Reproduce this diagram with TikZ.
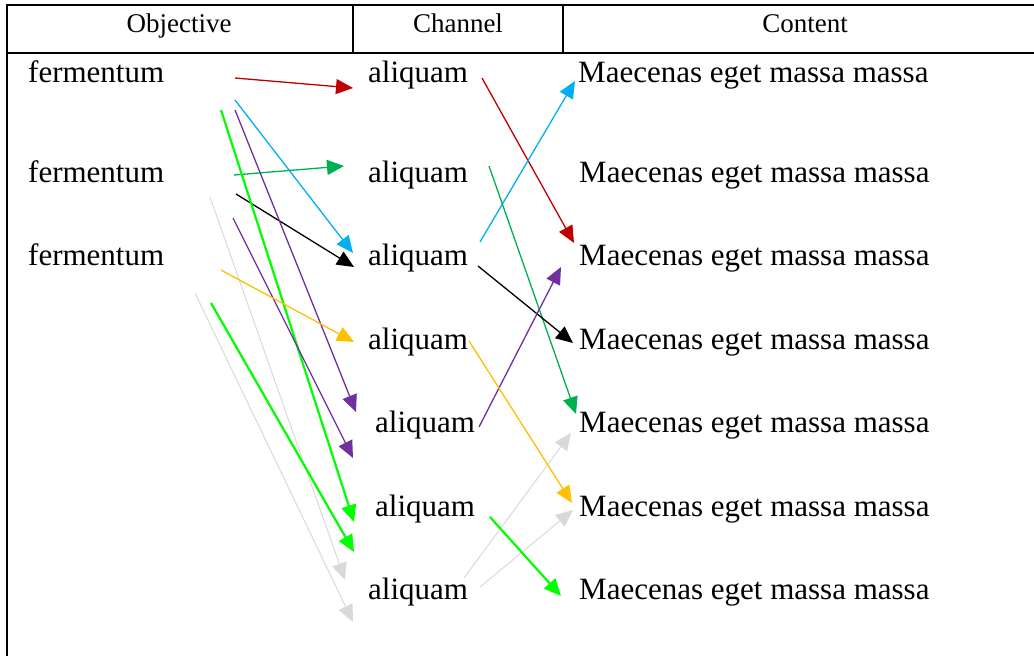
\documentclass[tikz,border=0pt]{standalone}
\usepackage{fontspec}
\setmainfont{Liberation Serif}
\usetikzlibrary{arrows.meta}
\definecolor{cred}{HTML}{C00000}
\definecolor{cblue}{HTML}{00B0F0}
\definecolor{cgreen}{HTML}{00B050}
\definecolor{clime}{HTML}{00FF00}
\definecolor{cpurple}{HTML}{7030A0}
\definecolor{cgray}{HTML}{D9D9D9}
\definecolor{corange}{HTML}{FFC000}
\tikzset{
  rule/.style={line width=2pt, black},
  head/.style={font=\rmfamily\fontsize{27}{32}\selectfont, anchor=base},
  body/.style={font=\rmfamily\fontsize{31}{37}\selectfont, anchor=base west, inner sep=0pt},
  conn/.style={line width=1.3pt, -{Triangle[length=17pt,width=15pt]}},
  thick conn/.style={line width=2.2pt, -{Triangle[length=17pt,width=15pt]}},
  thin conn/.style={line width=1pt, -{Triangle[length=17pt,width=15pt]}},
}
\begin{document}
\begin{tikzpicture}[x=1pt,y=-1pt]
\useasboundingbox (0,0) rectangle (1034,656);
% table rules
\draw[rule] (6,5) -- (1034,5);
\draw[rule] (6,53) -- (1034,53);
\draw[rule] (7,4) -- (7,656);
\draw[rule] (353,5) -- (353,53);
\draw[rule] (563,5) -- (563,53);
% headers
\node[head] (h1) at (179,32) {Objective};
\node[head] (h2) at (458,32) {Channel};
\node[head] (h3) at (805,32) {Content};
% objectives
\node[body] (o1) at (28,82) {fermentum};
\node[body] (o2) at (28,182) {fermentum};
\node[body] (o3) at (28,265) {fermentum};
% channels
\node[body] (c1) at (368,82) {aliquam};
\node[body] (c2) at (368,182) {aliquam};
\node[body] (c3) at (368,265) {aliquam};
\node[body] (c4) at (368,349) {aliquam};
\node[body] (c5) at (375,432) {aliquam};
\node[body] (c6) at (375,516) {aliquam};
\node[body] (c7) at (368,599) {aliquam};
% contents
\node[body] (m1) at (578,82) {Maecenas eget massa massa};
\node[body] (m2) at (579,182) {Maecenas eget massa massa};
\node[body] (m3) at (579,265) {Maecenas eget massa massa};
\node[body] (m4) at (579,349) {Maecenas eget massa massa};
\node[body] (m5) at (579,432) {Maecenas eget massa massa};
\node[body] (m6) at (579,516) {Maecenas eget massa massa};
\node[body] (m7) at (579,599) {Maecenas eget massa massa};
% left connector ends
\coordinate (a1s) at (235,78);  \coordinate (a1e) at (353,88);
\coordinate (a2s) at (235,100); \coordinate (a2e) at (353,253);
\coordinate (a3s) at (234,175); \coordinate (a3e) at (344,166);
\coordinate (a4s) at (236,194); \coordinate (a4e) at (354,267);
\coordinate (a5s) at (221,110); \coordinate (a5e) at (354,522);
\coordinate (a6s) at (235,110); \coordinate (a6e) at (356,412);
\coordinate (a7s) at (233,218); \coordinate (a7e) at (353,458);
\coordinate (a8s) at (210,197); \coordinate (a8e) at (345,580);
\coordinate (a9s) at (221,270); \coordinate (a9e) at (354,342);
\coordinate (a10s) at (195,293); \coordinate (a10e) at (353,622);
\coordinate (a11s) at (211,303); \coordinate (a11e) at (354,552);
% right connector ends
\coordinate (b1s) at (482,78);  \coordinate (b1e) at (574,243);
\coordinate (b2s) at (480,242); \coordinate (b2e) at (575,81);
\coordinate (b3s) at (489,166); \coordinate (b3e) at (576,414);
\coordinate (b4s) at (478,266); \coordinate (b4e) at (573,343);
\coordinate (b5s) at (479,427); \coordinate (b5e) at (561,267);
\coordinate (b6s) at (469,341); \coordinate (b6e) at (572,503);
\coordinate (b7s) at (464,578); \coordinate (b7e) at (571,433);
\coordinate (b8s) at (480,587); \coordinate (b8e) at (573,510);
\coordinate (b9s) at (490,517); \coordinate (b9e) at (561,596);
% left connectors
\draw[thin conn, cgray] (a8s) -- (a8e);
\draw[thin conn, cgray] (a10s) -- (a10e);
\draw[conn, cred] (a1s) -- (a1e);
\draw[conn, cblue] (a2s) -- (a2e);
\draw[conn, cgreen] (a3s) -- (a3e);
\draw[conn, black] (a4s) -- (a4e);
\draw[thick conn, clime] (a5s) -- (a5e);
\draw[conn, cpurple] (a6s) -- (a6e);
\draw[conn, cpurple] (a7s) -- (a7e);
\draw[conn, corange] (a9s) -- (a9e);
\draw[thick conn, clime] (a11s) -- (a11e);
% right connectors
\draw[thin conn, cgray] (b7s) -- (b7e);
\draw[thin conn, cgray] (b8s) -- (b8e);
\draw[conn, cred] (b1s) -- (b1e);
\draw[conn, cblue] (b2s) -- (b2e);
\draw[conn, cgreen] (b3s) -- (b3e);
\draw[conn, black] (b4s) -- (b4e);
\draw[conn, cpurple] (b5s) -- (b5e);
\draw[conn, corange] (b6s) -- (b6e);
\draw[thick conn, clime] (b9s) -- (b9e);
\end{tikzpicture}
\end{document}
